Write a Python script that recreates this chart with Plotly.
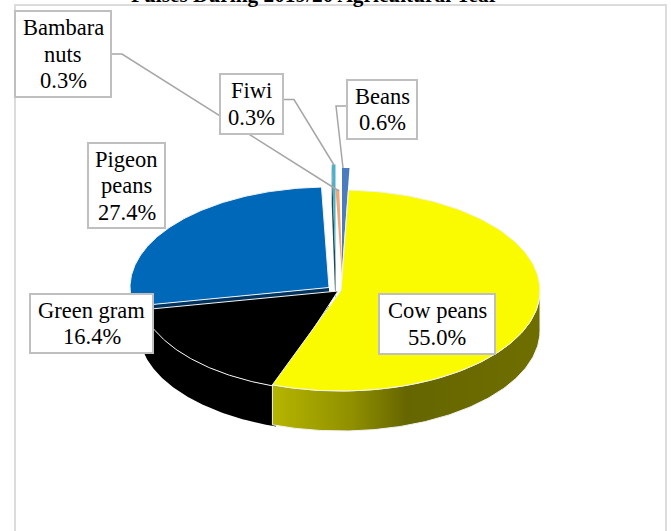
import numpy as np
import plotly.graph_objects as go

# ---- data ----
categories = ["Beans", "Cow peans", "Green gram", "Pigeon peans", "Bambara nuts", "Fiwi"]
values = [0.6, 55.0, 16.4, 27.4, 0.3, 0.3]
label_lines = [["Beans"], ["Cow peans"], ["Green gram"], ["Pigeon", "peans"], ["Bambara", "nuts"], ["Fiwi"]]
title = "Pulses During 2019/20 Agricultural Year"

# ---- styling / layout (pixel space of the 671x531 page) ----
fills = ["#4a7cbf", "#fbfb00", "#000000", "#0068b8", "#f0a878", "#4fb0c8"]
walls = ["#2f5585", "#6b6b00", "#000000", "#00345f", "#a06030", "#1c4a50"]
centres = [(342, 268.5), (341, 290.5), (338, 291), (329, 287.5), (343, 290), (335.5, 265)]
RX, RY, DEPTH = 199, 100.5, 40
LINE_H = 26.5
boxes = [(347, 80, 417, 139), (379, 294, 495, 354), (30, 294, 153, 353),
         (88, 143, 165, 228), (15, 11, 111, 97), (220, 74, 283, 134)]
leaders = [[(347, 106), (336, 106), (343, 168)],
           [(112, 54), (122, 54), (339, 191)],
           [(283, 99.5), (294, 99.5), (334, 165)]]
EDGE = "#f2f2f2"

total = sum(values)
spans = []
acc = 0.0
for v in values:
    spans.append((acc, acc + v / total * 360))
    acc += v / total * 360


def rim(c, a0, a1, drop=0.0, n=120):
    t = np.radians(np.linspace(a0, a1, n))
    return c[0] + RX * np.sin(t), c[1] - RY * np.cos(t) + drop


fig = go.Figure()


def poly(x, y, color, edge=None, **kw):
    fig.add_trace(go.Scatter(
        x=list(x), y=list(y), mode="lines", fill="toself", fillcolor=color,
        line=dict(color=edge or color, width=1 if edge else 0),
        hoverinfo="skip", showlegend=False, **kw))


def top(i, edge=EDGE, lead=0.0):
    x, y = rim(centres[i], spans[i][0] - lead, spans[i][1])
    c = centres[i]
    poly([c[0], *x, c[0]], [c[1], *y, c[1]], fills[i], edge)


def cut(i, angle):
    c = centres[i]
    x, y = rim(c, angle, angle, n=1)
    poly([c[0], x[0], x[0], c[0], c[0]],
         [c[1], y[0], y[0] + DEPTH, c[1] + DEPTH, c[1]], walls[i])


# thin wedges at the back
cut(5, spans[5][0])
top(5, edge=None)
top(4, edge=None)
top(0, edge=None)

# Pigeon peans: dark radial face then the top
cut(3, spans[3][0])
x3, y3 = rim(centres[3], spans[3][0], 270)
xb3, yb3 = rim(centres[3], 270, spans[3][0], DEPTH)
poly([*x3, *xb3], [*y3, *yb3], walls[3])
top(3)

# Green gram wall then the top (runs slightly under the yellow slice)
x2, y2 = rim(centres[2], spans[2][0] - 2, spans[2][1])
xb2, yb2 = rim(centres[2], spans[2][1], spans[2][0] - 2, DEPTH)
poly([*x2, *xb2], [*y2, *yb2], walls[2])
top(2, lead=2)

# Cow peans wall with its horizontal shading, then the top
x1, y1 = rim(centres[1], 90, spans[1][1])
xb1, yb1 = rim(centres[1], spans[1][1], 90, DEPTH)
fig.add_trace(go.Scatter(
    x=[*x1, *xb1, x1[0]], y=[*y1, *yb1, y1[0]], mode="lines", fill="toself",
    line=dict(color=EDGE, width=1),
    fillgradient=dict(type="horizontal",
                      colorscale=[[0, "#b5b500"], [0.3, "#8f8f00"], [0.5, "#666600"], [1, "#6e6e00"]]),
    hoverinfo="skip", showlegend=False))
top(1)

shapes = [dict(type="rect", x0=15, y0=5, x1=666, y1=560, layer="below",
               line=dict(color="#dcdcdc", width=2), fillcolor="white")]
for pts in leaders:
    path = "M " + " L ".join(f"{px} {py}" for px, py in pts)
    shapes.append(dict(type="path", path=path, line=dict(color="#a6a6a6", width=1.5)))
annotations = [dict(x=314.5, y=9, xref="x", yref="y", xanchor="center", yanchor="bottom",
                    text=f"<b>{title}</b>", showarrow=False,
                    font=dict(family="Liberation Serif", size=21.3, color="black"))]
for lines, v, b in zip(label_lines, values, boxes):
    shapes.append(dict(type="rect", x0=b[0], y0=b[1], x1=b[2], y1=b[3],
                       line=dict(color="#bfbfbf", width=2), fillcolor="white"))
    rows = [*lines, f"{v:.1f}%"]
    mid = (b[1] + b[3]) / 2
    for k, row in enumerate(rows):
        annotations.append(dict(x=(b[0] + b[2]) / 2, y=mid + (k - (len(rows) - 1) / 2) * LINE_H,
                                xref="x", yref="y", xanchor="center", yanchor="middle",
                                showarrow=False, text=row,
                                font=dict(family="Liberation Serif", size=22.5, color="black")))

fig.update_layout(
    width=671, height=531, margin=dict(l=0, r=0, t=0, b=0), autosize=False,
    paper_bgcolor="white", plot_bgcolor="white", showlegend=False,
    shapes=shapes, annotations=annotations,
    xaxis=dict(range=[0, 671], visible=False, fixedrange=True),
    yaxis=dict(range=[531, 0], visible=False, fixedrange=True),
)
fig.write_html("out.html", config={"displayModeBar": False},
               post_script="document.body.style.margin='0';document.body.style.overflow='hidden';")
